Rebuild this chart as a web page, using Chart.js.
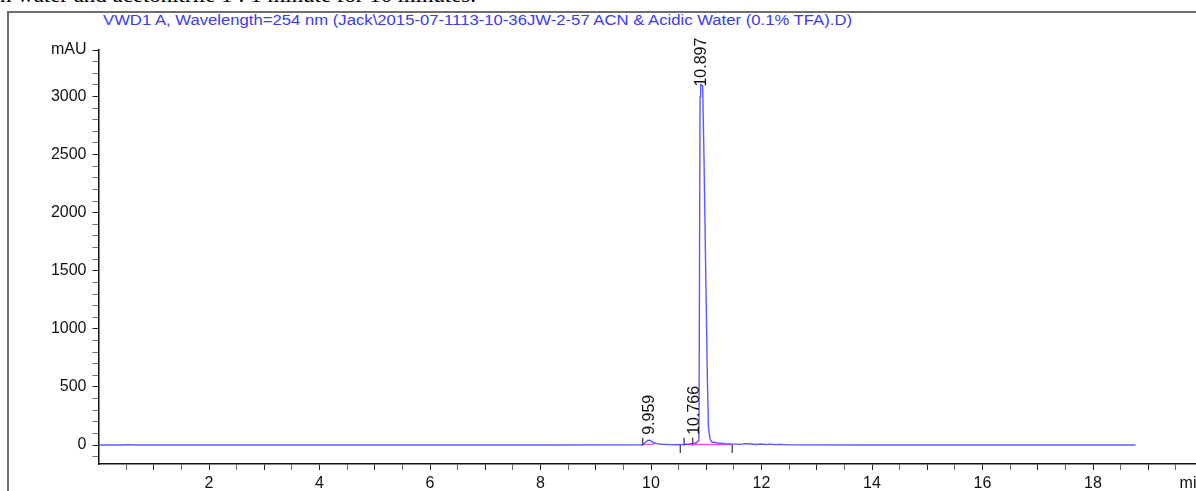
<!DOCTYPE html>
<html>
<head>
<meta charset="utf-8">
<script src="https://cdn.jsdelivr.net/npm/chart.js@4/dist/chart.umd.min.js"></script>
<style>
    html, body { margin: 0; padding: 0; background: #fff; overflow: hidden; }
    body { width: 1196px; height: 491px; position: relative; }
    #caption {
        position: absolute; left: 0; top: -17px; white-space: nowrap;
        font-family: "Liberation Serif", serif; font-size: 21px; color: #000;
        transform-origin: 0 0;
    }
    #frameTop { position: absolute; left: 7px; top: 11px; width: 1200px; height: 2px; background: #6e6e6e; }
    #frameLeft { position: absolute; left: 7px; top: 11px; width: 2px; height: 490px; background: #6e6e6e; }
    #title {
        position: absolute; left: 103px; top: 12px; white-space: nowrap;
        font-family: "Liberation Sans", Arial, sans-serif; font-size: 14px; color: #3a3af2;
        transform-origin: 0 0;
    }
    #chart { position: absolute; left: 0; top: 0; }
</style>
</head>
<body>
<div id="caption">n water and acetonitrile 1 : 1 minute for 10 minutes.</div>
<div id="frameTop"></div>
<div id="frameLeft"></div>
<div id="title">VWD1 A, Wavelength=254 nm (Jack\2015-07-1113-10-36JW-2-57 ACN &amp; Acidic Water (0.1% TFA).D)</div>
<canvas id="chart" width="1220" height="491"></canvas>
<script>
// --- données du chromatogramme (temps en min, signal en mAU) ---
const times = [0, 0.45, 0.5, 0.62, 0.66, 3, 6, 8, 9.8, 9.86, 9.9, 9.94, 9.97, 10.0, 10.04, 10.1, 10.2, 10.35, 10.5, 10.6, 10.7, 10.76, 10.82, 10.868, 10.888, 10.9, 10.935, 10.96, 10.99, 11.02, 11.04, 11.07, 11.1, 11.2, 11.35, 11.5, 11.62, 11.7, 11.8, 11.9, 12.0, 12.08, 12.15, 12.25, 12.35, 12.5, 14, 16, 18.77];
const signal = [0, 0, 3, 3, 0, 0, 0, 1, 2, 6, 25, 40, 42, 36, 22, 12, 7, 4, 3, 6, 9, 13, 20, 40, 3000, 3100, 3090, 2450, 1500, 580, 150, 50, 26, 18, 12, 8, 6, 12, 9, 5, 9, 4, 8, 4, 6, 2, 1, 1, 0];

// ligne de base intégrée (rose)
const baseTimes1 = [9.86, 10.06];
const baseVals1 = [4, 8];
const baseTimes2 = [10.6, 11.47];
const baseVals2 = [6, 4];

// pics annotés
const peakTimes = [9.959, 10.766, 10.897];
const peakLabelAt = [88, 88, 3085];

// marqueurs de début/fin de pic
const markUpTimes = [9.85, 10.6, 10.755];
const markDownTimes = [10.53, 11.47];

// graduations
const xLabelTicks = [2, 4, 6, 8, 10, 12, 14, 16, 18];
const yLabelTicks = [0, 500, 1000, 1500, 2000, 2500, 3000];
const yUnit = 'mAU';
const xUnit = 'min';

const toPts = (xs, ys) => xs.map((x, i) => ({ x: x, y: ys[i] }));

// Adapter la largeur des textes HTML
function fitWidth(id, w) {
    const el = document.getElementById(id);
    el.style.transform = 'scaleX(' + (w / el.getBoundingClientRect().width) + ')';
}
fitWidth('title', 749);
fitWidth('caption', 476);

const peakLabels = {
    id: 'peakLabels',
    afterDatasetsDraw(chart) {
        const ctx = chart.ctx;
        const xs = chart.scales.x, ys = chart.scales.y;
        ctx.save();
        ctx.fillStyle = '#111';
        ctx.font = '16px "Liberation Sans", Arial, sans-serif';
        ctx.textAlign = 'left';
        ctx.textBaseline = 'middle';
        peakTimes.forEach((t, i) => {
            ctx.save();
            ctx.translate(xs.getPixelForValue(t) + 1, ys.getPixelForValue(peakLabelAt[i]));
            ctx.rotate(-Math.PI / 2);
            ctx.fillText(t.toFixed(3), 0, 0);
            ctx.restore();
        });
        ctx.restore();
    }
};

const xTickVals = [];
for (let v = 0.5; v < 20; v += 0.5) xTickVals.push(v);

const yTickVals = [];
for (let v = -100; v <= 3400; v += 100) yTickVals.push(v);

const tickFont = { family: '"Liberation Sans", Arial, sans-serif', size: 16 };

new Chart(document.getElementById('chart'), {
    type: 'line',
    data: {
        datasets: [
            {
                data: toPts(times, signal),
                borderColor: 'rgba(60,60,255,0.85)',
                borderWidth: 1.4,
                pointRadius: 0,
                tension: 0
            },
            {
                data: toPts(baseTimes1, baseVals1),
                borderColor: '#ff40ff',
                borderWidth: 1.2,
                pointRadius: 0
            },
            {
                data: toPts(baseTimes2, baseVals2),
                borderColor: '#ff40ff',
                borderWidth: 1.2,
                pointRadius: 0
            },
            {
                type: 'scatter',
                data: markUpTimes.map(t => ({ x: t, y: 28 })),
                pointStyle: 'line',
                rotation: 90,
                pointRadius: 4,
                borderColor: '#333',
                borderWidth: 1.2,
                showLine: false
            },
            {
                type: 'scatter',
                data: markDownTimes.map(t => ({ x: t, y: -34 })),
                pointStyle: 'line',
                rotation: 90,
                pointRadius: 4,
                borderColor: '#333',
                borderWidth: 1.2,
                showLine: false
            }
        ]
    },
    options: {
        responsive: false,
        animation: false,
        layout: { padding: { top: 50, left: 0, right: 16.5, bottom: 0 } },
        plugins: { legend: { display: false }, tooltip: { enabled: false } },
        scales: {
            x: {
                type: 'linear',
                min: 0,
                max: 20,
                afterBuildTicks: s => { s.ticks = xTickVals.concat([19.8]).map(v => ({ value: v })); },
                afterFit: s => { s.height = 27; },
                ticks: {
                    autoSkip: false,
                    maxRotation: 0,
                    padding: 4,
                    color: '#111',
                    font: tickFont,
                    callback: v => v === 19.8 ? xUnit : (xLabelTicks.includes(v) ? String(v) : '')
                },
                grid: {
                    drawOnChartArea: false,
                    tickLength: 6,
                    tickColor: c => c.tick && c.tick.value === 19.8 ? 'rgba(0,0,0,0)' : (c.tick && c.tick.value % 1 === 0 ? '#222' : '#666')
                },
                border: { color: '#111', width: 1.5 }
            },
            y: {
                type: 'linear',
                min: -163,
                max: 3400,
                afterBuildTicks: s => { s.ticks = yTickVals.map(v => ({ value: v })); },
                afterFit: s => { s.width = 98.5; },
                ticks: {
                    autoSkip: false,
                    padding: 6,
                    color: '#111',
                    font: tickFont,
                    callback: v => v === 3400 ? yUnit : (yLabelTicks.includes(v) ? String(v) : '')
                },
                grid: {
                    drawOnChartArea: false,
                    tickLength: 6,
                    tickColor: c => c.tick && (c.tick.value % 500 === 0 || c.tick.value === 3400) ? '#222' : '#777'
                },
                border: { color: '#111', width: 1.5 }
            }
        }
    },
    plugins: [peakLabels]
});
</script>
</body>
</html>
